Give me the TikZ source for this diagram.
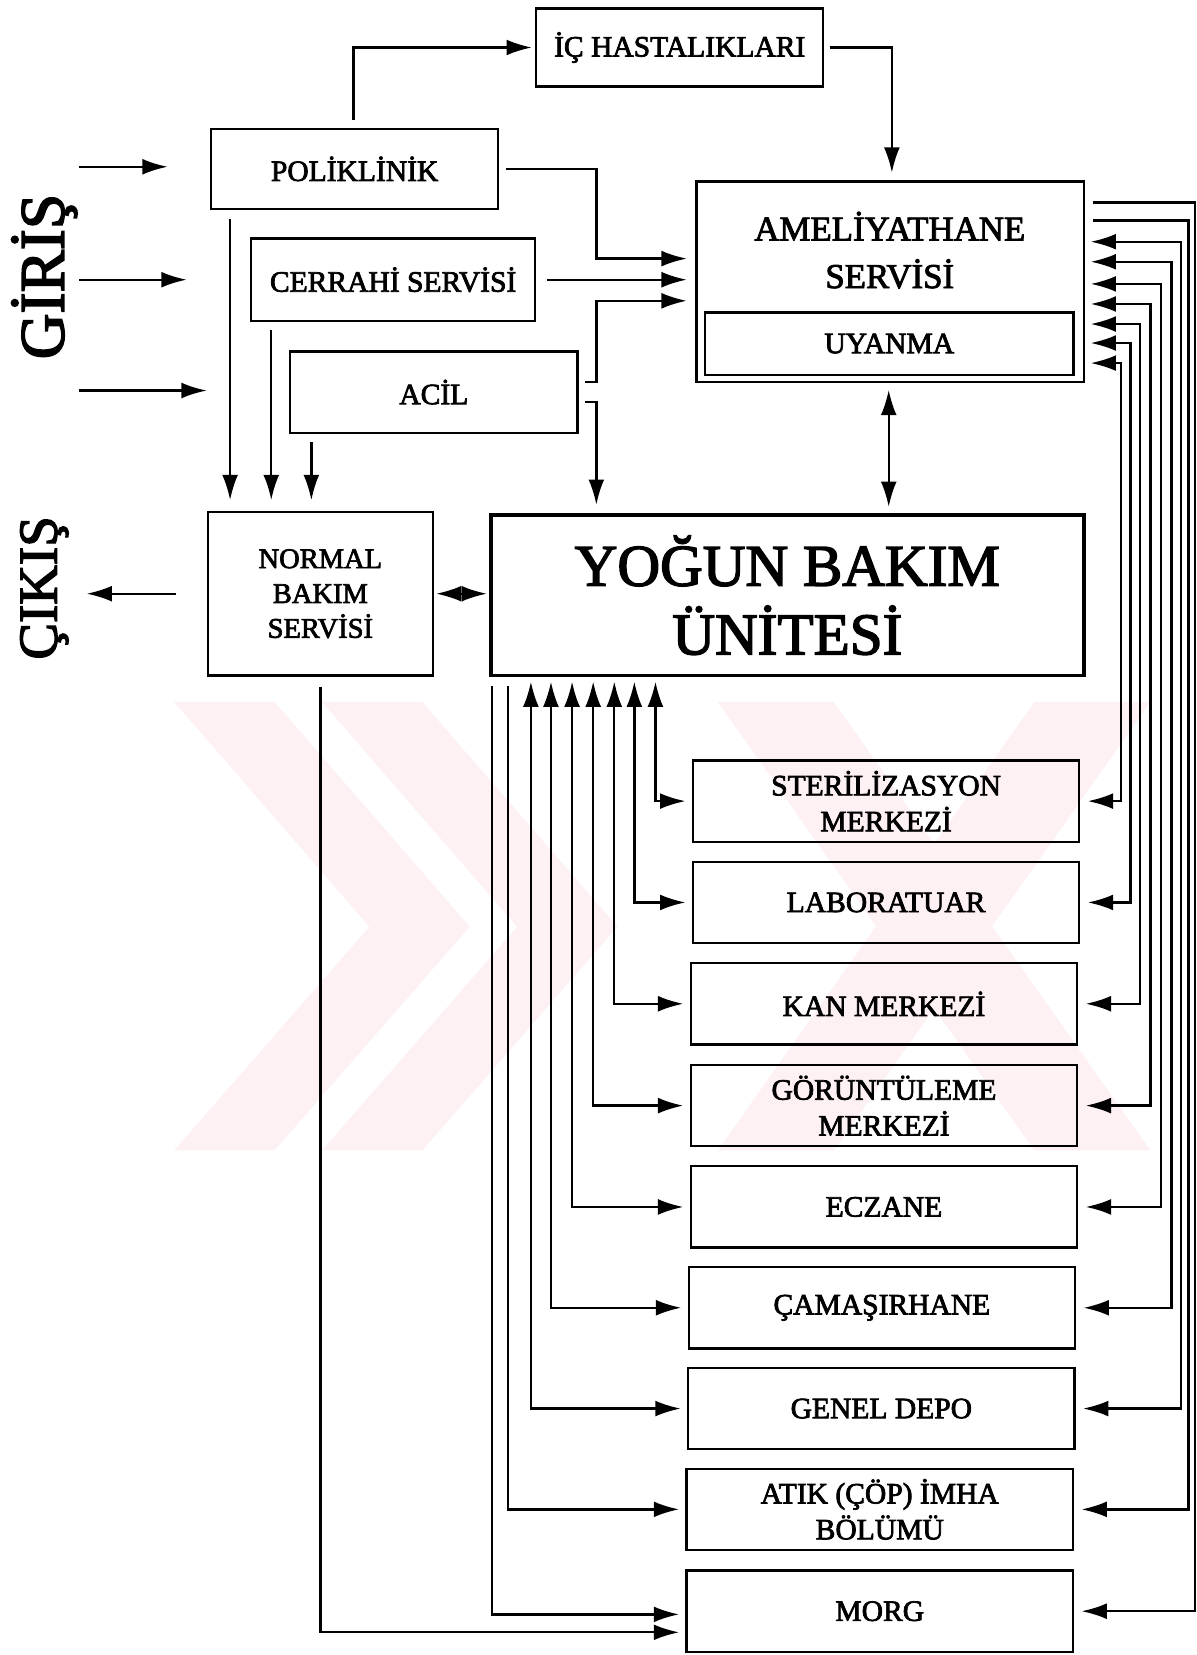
\documentclass[tikz,border=0pt]{standalone}
\usepackage{fontspec}
\setmainfont{Liberation Serif}[FakeBold=2.5]
\usetikzlibrary{arrows.meta,calc}
\definecolor{wmark}{RGB}{254,241,243}
\begin{document}
\begin{tikzpicture}[x=1pt,y=-1pt,
  box/.style={draw, line width=2.2pt, inner sep=0pt, align=center},
  stdbox/.style={box, minimum width=366pt, minimum height=77pt},
  lbl/.style={font=\fontsize{28}{34}\selectfont},
  conn/.style={line width=2.2pt},
  >={Latex[length=24pt,width=15pt]}]
\useasboundingbox (0,0) rectangle (1134,1568);
\fill[white] (0,0) rectangle (1134,1568);

% faint watermark
\fill[wmark] (165,665) -- (260,665) -- (445,878) -- (260,1090) -- (165,1090) -- (350,878) -- cycle;
\fill[wmark] (305,665) -- (400,665) -- (585,878) -- (400,1090) -- (305,1090) -- (490,878) -- cycle;
\fill[wmark] (680,665) -- (790,665) -- (1090,1090) -- (980,1090) -- cycle;
\fill[wmark] (980,665) -- (1090,665) -- (790,1090) -- (680,1090) -- cycle;

% side texts
\node[rotate=90, font=\fontsize{60}{60}\selectfont] (giris) at (42,262) {GİRİŞ};
\node[rotate=90, font=\fontsize{52}{52}\selectfont] (cikis) at (42,557) {ÇIKIŞ};

% top boxes
\node[box, lbl, minimum width=272pt, minimum height=74pt] (ic) at (644,45) {İÇ HASTALIKLARI};
\node[box, lbl, minimum width=272pt, minimum height=76pt] (pol) at (336,160) {POLİKLİNİK};
\node[box, lbl, minimum width=269pt, minimum height=78pt] (cer) at (372.5,265) {CERRAHİ SERVİSİ};
\node[box, lbl, minimum width=272pt, minimum height=77pt] (acil) at (411,371.5) {ACİL};

% ameliyathane
\node[box, line width=2.6pt, minimum width=367pt, minimum height=190pt] (ame) at (843.5,267) {};
\node[font=\fontsize{33}{45}\selectfont, align=center] (ametxt) at (843,237) {AMELİYATHANE\\SERVİSİ};
\node[box, lbl, minimum width=349pt, minimum height=59pt] (uya) at (842.5,325.5) {UYANMA};

% yogun bakim & normal
\node[box, line width=3.4pt, minimum width=562pt, minimum height=152pt,
      font=\fontsize{56}{65}\selectfont] (yog) at (746,564) {YOĞUN BAKIM\\ÜNİTESİ};
\node[box, font=\fontsize{27}{33}\selectfont, minimum width=213pt, minimum height=155pt] (nor) at (303.5,562.5) {NORMAL\\BAKIM\\SERVİSİ};

% service boxes
\node[stdbox, lbl] (ster) at (839.5,759) {STERİLİZASYON\\MERKEZİ};
\node[stdbox, lbl] (lab)  at (839.5,855) {LABORATUAR};
\node[stdbox, lbl] (kan)  at (837.5,951) {KAN MERKEZİ};
\node[stdbox, lbl] (gor)  at (837.5,1047.5) {GÖRÜNTÜLEME\\MERKEZİ};
\node[stdbox, lbl] (ecz)  at (837.5,1143.5) {ECZANE};
\node[stdbox, lbl] (cam)  at (835.5,1239) {ÇAMAŞIRHANE};
\node[stdbox, lbl] (gen)  at (835,1334.5) {GENEL DEPO};
\node[stdbox, lbl] (atik) at (833.5,1430) {ATIK (ÇÖP) İMHA\\BÖLÜMÜ};
\node[stdbox, lbl] (morg) at (833.5,1526.5) {MORG};

% entry arrows
\coordinate (in1) at (75,158);
\coordinate (in2) at (75,265);
\coordinate (in3) at (75,370);
\draw[conn,->,shorten >=40pt] (in1) -- (in1 -| pol.west);
\draw[conn,->,shorten >=60pt] (in2) -- (in2 -| cer.west);
\draw[conn,->,shorten >=78pt] (in3) -- (in3 -| acil.west);

% exit arrow
\coordinate (outp) at (82,562.5);
\draw[conn,->,shorten <=29pt] (nor.west) -- (outp);

% poliklinik -> ic hastaliklari
\coordinate (p1) at (335,45);
\draw[conn,->,shorten <=7pt,shorten >=3pt] (pol.north -| p1) |- (ic.west);
% ic hastaliklari -> ameliyathane
\coordinate (q1) at (845,45);
\draw[conn,->,shorten <=5pt,shorten >=7pt] (ic.east) -| (ame.north -| q1);

% to ameliyathane
\coordinate (k1) at (565,245);
\coordinate (k2) at (565,285);
\coordinate (k3) at (565,381);
\draw[conn,->,shorten <=6pt,shorten >=8pt] (pol.east) -| (k1) -- (ame.west |- k1);
\draw[conn,->,shorten <=10pt,shorten >=8pt] (cer.east) -- (cer.east -| ame.west);
\draw[conn,->,shorten <=6pt,shorten >=8pt] ([yshift=9.5pt]acil.east) -| (k2) -- (ame.west |- k2);
\draw[conn,->,shorten <=6pt,shorten >=8pt] (acil.east |- k3) -| (yog.north -| k3);

% down to normal bakim
\coordinate (d1) at (218,300);
\coordinate (d2) at (257,300);
\coordinate (d3) at (295,300);
\draw[conn,->,shorten <=8pt,shorten >=10pt] (pol.south -| d1) -- (nor.north -| d1);
\draw[conn,->,shorten <=8pt,shorten >=10pt] (cer.south -| d2) -- (nor.north -| d2);
\draw[conn,->,shorten <=8pt,shorten >=10pt] (acil.south -| d3) -- (nor.north -| d3);

% ameliyathane <-> yogun
\coordinate (m1) at (842,420);
\draw[conn,<->,shorten <=6pt,shorten >=6pt] (ame.south -| m1) -- (yog.north -| m1);
% normal <-> yogun
\draw[conn,<->,shorten <=2pt,shorten >=2pt] (nor.east) -- (nor.east -| yog.west);

% buses with arrows on both ends
\foreach \n/\lx/\rx/\ry in {ster/621/1062/344, lab/601/1071/325, kan/582/1080/307,
    gor/562/1090/288, ecz/542/1100/269, cam/522/1110/248, gen/503/1119/229}{
  \coordinate (lb\n) at (\lx,700);
  \coordinate (rb\n) at (\rx,\ry);
  \draw[conn,<->,shorten <=4pt,shorten >=6pt] (yog.south -| lb\n) |- (\n.west);
  \draw[conn,<->,shorten <=5pt,shorten >=7pt] (ame.east |- rb\n) -- (rb\n) |- (\n.east);
}
% atik
\coordinate (lbatik) at (481,700);
\coordinate (rbatik) at (1126,209);
\draw[conn,->,shorten <=8pt,shorten >=6pt] (yog.south -| lbatik) |- (atik.west);
\draw[conn,->,shorten <=7pt,shorten >=7pt] (ame.east |- rbatik) -- (rbatik) |- (atik.east);
% morg
\coordinate (lbmorg) at (466,700);
\coordinate (rbmorg) at (1132,192);
\draw[conn,->,shorten <=8pt,shorten >=6pt] (yog.south -| lbmorg) |- ($(morg.west)+(0,3)$);
\draw[conn,->,shorten <=7pt,shorten >=7pt] (ame.east |- rbmorg) -- (rbmorg) |- (morg.east);
\draw[conn,->,shorten <=10pt,shorten >=6pt] (nor.south) |- ($(morg.west)+(0,20)$);
\end{tikzpicture}
\end{document}
